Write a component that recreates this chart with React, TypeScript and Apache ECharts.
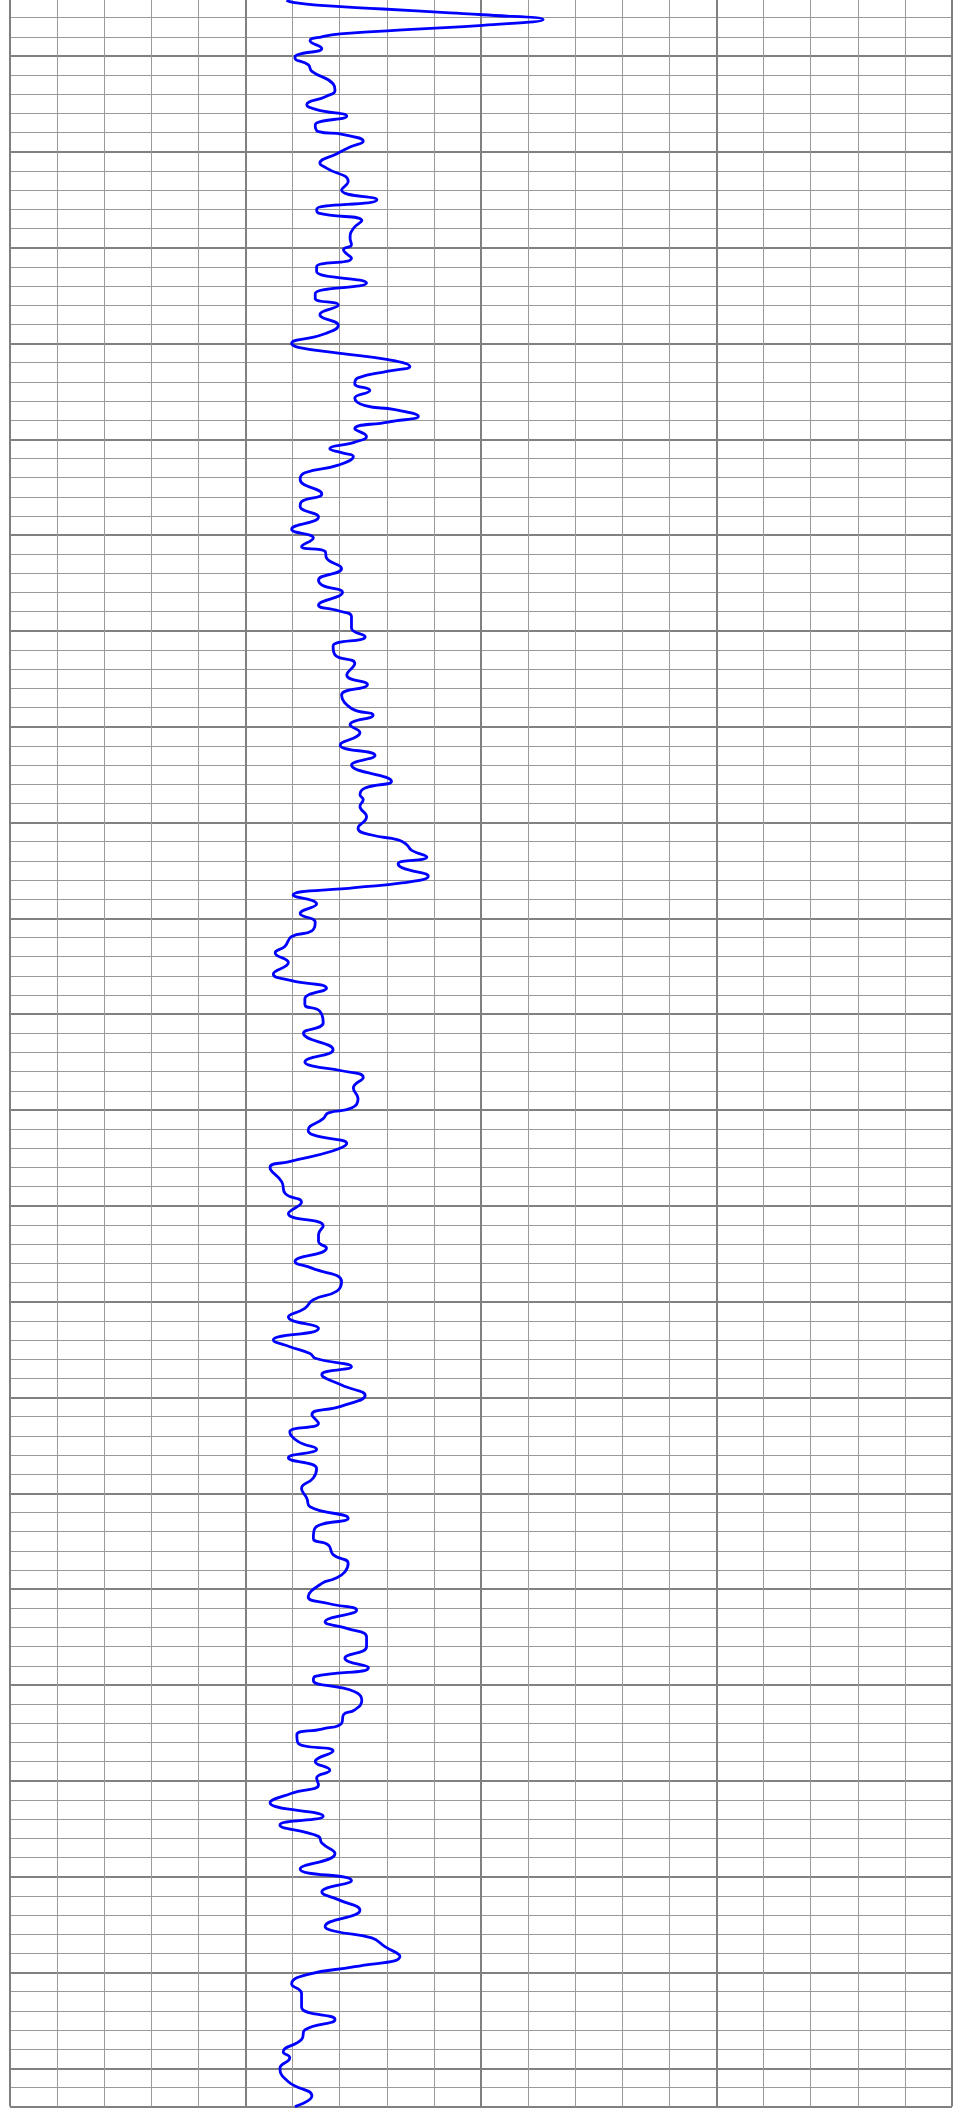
import React, { useEffect, useRef } from "react";
import * as echarts from "echarts";

// Depth samples (ft), top to bottom
const depthFt = [
  4994.2, 4994.4, 4994.7, 4995.1, 4995.5, 4995.7, 4996.2, 4996.8, 4997.2, 4997.7,
  4998.0, 4998.4, 4999.2, 4999.9, 5000.2, 5000.9, 5001.6, 5002.9, 5003.6, 5004.2,
  5005.1, 5005.6, 5006.3, 5007.2, 5007.9, 5008.2, 5008.9, 5009.5, 5010.2, 5011.2,
  5011.7, 5013.1, 5014.0, 5015.0, 5016.0, 5016.4, 5017.2, 5018.0, 5019.0, 5019.7,
  5020.2, 5021.1, 5022.0, 5022.5, 5023.7, 5024.8, 5025.3, 5026.0, 5027.0, 5028.1,
  5029.1, 5030.0, 5030.4, 5031.0, 5031.7, 5032.4, 5032.9, 5033.6, 5034.2, 5034.9,
  5035.7, 5036.5, 5036.9, 5037.6, 5038.2, 5038.9, 5039.7, 5040.3, 5041.0, 5041.4,
  5041.8, 5042.7, 5043.5, 5044.2, 5045.7, 5046.5, 5047.0, 5048.1, 5049.4, 5050.3,
  5051.2, 5051.7, 5052.4, 5053.5, 5054.7, 5055.2, 5056.0, 5057.3, 5057.9, 5058.5,
  5059.7, 5060.6, 5061.6, 5062.5, 5063.4, 5064.6, 5065.6, 5066.7, 5068.1, 5068.8,
  5069.8, 5070.6, 5071.9, 5073.0, 5074.0, 5075.7, 5076.4, 5077.1, 5077.6, 5078.3,
  5079.4, 5080.6, 5081.3, 5081.8, 5082.3, 5082.9, 5083.6, 5084.3, 5084.7, 5085.6,
  5086.3, 5086.8, 5087.6, 5088.5, 5089.5, 5090.4, 5091.3, 5091.9, 5092.9, 5093.6,
  5094.6, 5095.8, 5096.5, 5097.3, 5098.4, 5099.0, 5099.7, 5100.9, 5102.0, 5103.7,
  5105.0, 5105.4, 5105.9, 5106.6, 5107.7, 5108.8, 5109.8, 5110.3, 5110.9, 5112.1,
  5112.6, 5113.5, 5114.3, 5115.4, 5116.0, 5117.5, 5118.7, 5119.6, 5120.8, 5122.1,
  5123.0, 5123.7, 5124.4, 5125.8, 5126.5, 5127.9, 5128.9, 5129.8, 5130.7, 5131.6,
  5132.8, 5134.0, 5134.7, 5135.4, 5135.9, 5136.8, 5137.6, 5138.7, 5139.8, 5140.9,
  5141.8, 5142.7, 5143.6, 5144.6, 5145.4, 5146.3, 5147.4, 5148.4, 5149.5, 5150.5,
  5151.4, 5152.6, 5153.6, 5154.7, 5155.4, 5156.4, 5157.3, 5158.2, 5158.9, 5159.4,
  5160.8, 5161.5, 5162.2, 5163.4, 5164.1, 5165.0, 5166.0, 5167.2, 5168.2, 5169.1,
  5169.5, 5170.7, 5171.6, 5172.6, 5173.1, 5174.0, 5174.6, 5175.2, 5176.1, 5176.9,
  5178.0, 5178.9, 5179.7, 5180.4, 5181.3, 5182.3, 5183.7, 5184.6, 5185.8, 5186.5,
  5187.6, 5189.2, 5190.4, 5191.6, 5192.4, 5193.5, 5195.2, 5195.7, 5196.4, 5197.3,
  5198.3, 5199.4, 5200.2, 5201.2, 5202.2, 5203.6, 5204.9, 5206.0, 5207.0, 5208.3,
  5208.9, 5210.0, 5211.4, 5212.9, 5214.0,
];

// Log readings (API) at each depth sample
const gammaApi = [
  58.7, 60.1, 65.1, 79.2, 93.4, 100.4, 113.2, 100.4, 86.3, 70.1,
  66.2, 63.7, 66.2, 60.9, 60.5, 63.3, 64.1, 68.6, 69.0, 67.2,
  63.0, 65.1, 71.5, 64.8, 65.5, 70.8, 75.0, 72.2, 69.4, 65.8,
  67.2, 71.8, 70.4, 77.9, 65.1, 65.5, 74.7, 72.9, 72.2, 72.5,
  70.8, 72.5, 65.1, 65.1, 75.7, 64.8, 64.8, 69.7, 65.8, 69.7,
  66.2, 59.8, 61.2, 69.7, 80.3, 84.9, 80.3, 73.9, 73.2, 76.4,
  73.2, 75.4, 81.7, 86.7, 80.3, 73.2, 75.7, 73.2, 67.9, 70.4,
  72.9, 69.7, 62.6, 61.6, 66.2, 61.9, 61.6, 65.5, 59.8, 64.4,
  61.9, 66.9, 67.2, 70.4, 65.5, 66.2, 70.6, 65.5, 69.7, 72.5,
  72.5, 75.4, 68.6, 69.0, 73.2, 71.5, 75.9, 70.4, 72.5, 77.1,
  72.2, 74.3, 70.1, 77.5, 72.5, 81.0, 75.4, 74.3, 75.0, 74.3,
  75.7, 73.9, 76.8, 82.4, 84.2, 85.3, 88.5, 82.4, 83.2, 88.8,
  83.2, 73.2, 60.1, 65.1, 61.6, 64.8, 64.1, 59.8, 58.4, 56.3,
  59.1, 55.9, 59.8, 67.2, 62.6, 62.6, 65.8, 66.5, 62.3, 68.6,
  62.6, 64.1, 70.4, 75.0, 72.9, 73.9, 72.5, 67.6, 66.5, 63.3,
  64.4, 71.5, 68.3, 59.1, 55.2, 57.7, 58.4, 61.9, 59.1, 66.5,
  65.5, 65.5, 67.2, 60.5, 64.1, 70.4, 69.4, 64.4, 62.6, 59.1,
  65.5, 55.9, 59.4, 63.7, 64.8, 72.5, 66.2, 70.4, 75.4, 70.4,
  64.1, 65.5, 59.4, 61.2, 65.1, 59.1, 65.1, 64.4, 61.9, 63.0,
  63.7, 71.8, 64.8, 64.4, 67.6, 68.6, 71.8, 71.1, 69.0, 66.2,
  63.3, 67.6, 73.6, 66.9, 71.5, 75.7, 75.7, 71.1, 76.1, 64.8,
  64.4, 73.2, 74.7, 73.2, 70.8, 70.4, 66.2, 60.9, 61.2, 68.6,
  64.8, 67.9, 65.1, 65.5, 59.8, 55.2, 66.5, 57.3, 65.5, 66.2,
  69.0, 61.6, 72.5, 66.2, 69.7, 74.3, 66.9, 69.0, 76.8, 79.6,
  82.8, 73.2, 63.3, 59.8, 61.9, 61.9, 69.0, 62.6, 61.9, 58.0,
  59.4, 57.3, 59.1, 64.1, 60.5,
];

// Track scales
const valueRange = [0, 200];
const valueMinorStep = 10;
const valueMajorStep = 50;
const depthRange = [4990, 5214];
const depthMinorStep = 2;
const depthMajorStep = 10;

export default function App() {
  const ref = useRef<HTMLDivElement>(null);

  useEffect(() => {
    if (!ref.current) return;
    const chart = echarts.init(ref.current, null, { renderer: "svg" });

    const minorColor = "#9a9a9a";
    const majorColor = "#808080";
    const clear = "rgba(0,0,0,0)";
    const minorColors = [clear, minorColor, minorColor, minorColor, minorColor];
    const hidden = {
      axisLine: { show: false },
      axisTick: { show: false },
      axisLabel: { show: false },
    };

    const data = depthFt.map((d, i) => [gammaApi[i], d]);

    chart.setOption({
      animation: false,
      backgroundColor: "#ffffff",
      grid: {
        left: 10,
        right: 17,
        top: 0.14,
        bottom: 5.4,
        containLabel: false,
        outerBoundsMode: "none",
      },
      xAxis: [
        {
          type: "value",
          min: valueRange[0],
          max: valueRange[1],
          interval: valueMinorStep,
          position: "bottom",
          ...hidden,
          splitLine: { show: true, lineStyle: { color: minorColors, width: 1 } },
        },
        {
          type: "value",
          min: valueRange[0],
          max: valueRange[1],
          interval: valueMajorStep,
          position: "top",
          ...hidden,
          splitLine: { show: true, lineStyle: { color: majorColor, width: 2 } },
        },
      ],
      yAxis: [
        {
          type: "value",
          inverse: true,
          min: depthRange[0],
          max: depthRange[1],
          interval: depthMinorStep,
          position: "left",
          ...hidden,
          splitLine: { show: true, lineStyle: { color: minorColors, width: 1 } },
        },
        {
          type: "value",
          inverse: true,
          min: depthRange[0],
          max: depthRange[1],
          interval: depthMajorStep,
          position: "right",
          ...hidden,
          splitLine: { show: true, lineStyle: { color: majorColor, width: 2 } },
        },
      ],
      series: [
        {
          type: "line",
          xAxisIndex: 0,
          yAxisIndex: 0,
          data,
          symbol: "none",
          showSymbol: false,
          smooth: 0.5,
          lineStyle: { color: "#0000ff", width: 2.8 },
          z: 10,
        },
      ],
    });

    return () => chart.dispose();
  }, []);

  return (
    <div
      ref={ref}
      style={{ position: "absolute", left: 0, top: -40, width: 969, height: 2152 }}
    />
  );
}
